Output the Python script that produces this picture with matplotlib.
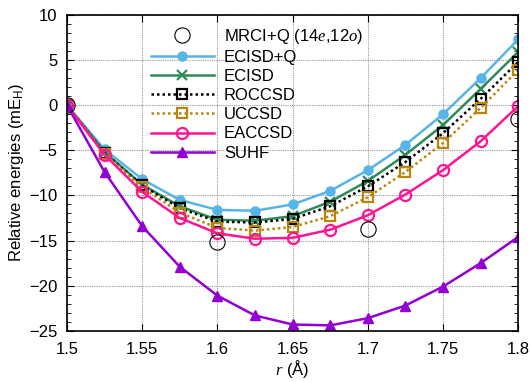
import matplotlib
matplotlib.use("Agg")
import matplotlib.pyplot as plt
from matplotlib.ticker import MultipleLocator

plt.rcParams['font.family'] = ['Liberation Sans', 'DejaVu Sans']
plt.rcParams['mathtext.fontset'] = 'custom'
plt.rcParams['mathtext.it'] = 'Liberation Serif:italic'
plt.rcParams['mathtext.rm'] = 'Liberation Sans'

r = [1.5, 1.525, 1.55, 1.575, 1.6, 1.625, 1.65, 1.675, 1.7, 1.725, 1.75, 1.775, 1.8]
r_mrci = [1.5, 1.6, 1.7, 1.8]
mrci = [0.0, -15.2, -13.7, -1.5]
ecisdq = [0.0, -4.9, -8.2, -10.5, -11.6, -11.7, -11.0, -9.5, -7.2, -4.4, -1.0, 3.0, 7.3]
ecisd = [0.0, -5.2, -8.8, -11.2, -12.7, -12.8, -12.3, -10.7, -8.4, -5.5, -2.2, 1.8, 5.9]
roccsd = [0.0, -5.3, -8.9, -11.4, -12.9, -13.0, -12.6, -11.2, -9.0, -6.3, -3.1, 0.7, 4.8]
uccsd = [0.0, -5.4, -9.1, -11.9, -13.6, -13.9, -13.5, -12.3, -10.2, -7.4, -4.2, -0.3, 3.9]
eaccsd = [0.0, -5.5, -9.6, -12.5, -14.2, -14.8, -14.7, -13.8, -12.2, -9.9, -7.2, -4.0, -0.1]
suhf = [0.0, -7.4, -13.4, -17.9, -21.1, -23.3, -24.3, -24.4, -23.6, -22.2, -20.1, -17.5, -14.6]

fig = plt.figure(figsize=(5.31, 3.82), dpi=100)
ax = fig.add_axes([0.126, 0.134, 0.850, 0.827])

ax.plot(r_mrci, mrci, ls='none', marker='o', ms=11, mfc='none', mec='black', mew=0.8,
        label=r'MRCI+Q (14$e$,12$o$)', zorder=5)
ax.plot(r, ecisdq, color='#56B4E9', lw=1.8, marker='o', ms=6.5, label='ECISD+Q')
ax.plot(r, ecisd, color='#2E8B57', lw=1.8, marker='x', ms=7, mew=1.6, label='ECISD')
ax.plot(r, roccsd, color='black', lw=1.8, ls=(0, (1, 1.2)), marker='s', ms=7.5, mfc='none', mew=1.6, label='ROCCSD')
ax.plot(r, uccsd, color='#B8860B', lw=1.8, ls=(0, (1, 1.2)), marker='s', ms=7.5, mfc='none', mew=1.6, label='UCCSD')
ax.plot(r, eaccsd, color='#FF1493', lw=1.8, marker='o', ms=8, mfc='none', mew=1.6, label='EACCSD')
ax.plot(r, suhf, color='#9400D3', lw=1.8, marker='^', ms=6.5, label='SUHF')

ax.set_xlim(1.5, 1.8)
ax.set_ylim(-25, 10)
ax.yaxis.set_minor_locator(MultipleLocator(1))
ax.set_xticks([1.5, 1.55, 1.6, 1.65, 1.7, 1.75, 1.8])
ax.set_xticklabels(['1.5', '1.55', '1.6', '1.65', '1.7', '1.75', '1.8'])
ax.set_yticks([-25, -20, -15, -10, -5, 0, 5, 10])
ax.set_yticklabels(['\u221225', '\u221220', '\u221215', '\u221210', '\u22125', '0', '5', '10'])
ax.tick_params(which='both', direction='in', top=True, right=True, labelsize=12)
ax.tick_params(which='major', length=5, pad=7)
ax.tick_params(axis='x', which='major', pad=8)
ax.tick_params(which='minor', length=3)
ax.grid(True, which='major', color='#999999', ls=(0, (1, 1)), lw=0.8)
for s in ax.spines.values():
    s.set_linewidth(1.2)

ax.set_xlabel(r'$r$ (Å)', fontsize=12, labelpad=0.5)
ax.set_ylabel(r'Relative energies (mE$_\mathrm{H}$)', fontsize=12, labelpad=2)

leg = ax.legend(loc='upper left', bbox_to_anchor=(0.16, 1.0), frameon=False, fontsize=12,
                handlelength=3.8, handletextpad=0.6, labelspacing=0.25, borderpad=0.2)

fig.savefig('out.png', dpi=100)
